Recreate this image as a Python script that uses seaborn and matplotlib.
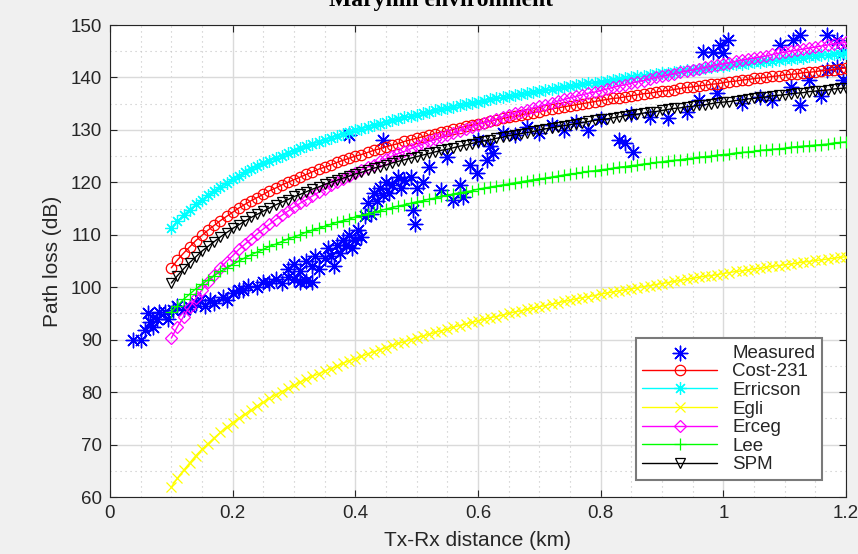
import matplotlib
matplotlib.use("Agg")
import matplotlib.pyplot as plt
import seaborn as sns
from matplotlib.ticker import MultipleLocator, FuncFormatter

# ---------------- data ----------------
distance_km = [0.10, 0.11, 0.12, 0.13, 0.14, 0.15, 0.16, 0.17, 0.18, 0.19,
               0.20, 0.21, 0.22, 0.23, 0.24, 0.25, 0.26, 0.27, 0.28, 0.29,
               0.30, 0.31, 0.32, 0.33, 0.34, 0.35, 0.36, 0.37, 0.38, 0.39,
               0.40, 0.41, 0.42, 0.43, 0.44, 0.45, 0.46, 0.47, 0.48, 0.49,
               0.50, 0.51, 0.52, 0.53, 0.54, 0.55, 0.56, 0.57, 0.58, 0.59,
               0.60, 0.61, 0.62, 0.63, 0.64, 0.65, 0.66, 0.67, 0.68, 0.69,
               0.70, 0.71, 0.72, 0.73, 0.74, 0.75, 0.76, 0.77, 0.78, 0.79,
               0.80, 0.81, 0.82, 0.83, 0.84, 0.85, 0.86, 0.87, 0.88, 0.89,
               0.90, 0.91, 0.92, 0.93, 0.94, 0.95, 0.96, 0.97, 0.98, 0.99,
               1.00, 1.01, 1.02, 1.03, 1.04, 1.05, 1.06, 1.07, 1.08, 1.09,
               1.10, 1.11, 1.12, 1.13, 1.14, 1.15, 1.16, 1.17, 1.18, 1.19, 1.20]

cost231 = [103.7, 105.2, 106.5, 107.7, 108.9, 109.9, 110.9, 111.8, 112.7, 113.5,
           114.3, 115.1, 115.8, 116.5, 117.1, 117.7, 118.4, 118.9, 119.5, 120.0,
           120.5, 121.0, 121.5, 122.0, 122.5, 122.9, 123.3, 123.8, 124.2, 124.6,
           125.0, 125.3, 125.7, 126.1, 126.4, 126.8, 127.1, 127.4, 127.8, 128.1,
           128.4, 128.7, 129.0, 129.3, 129.6, 129.8, 130.1, 130.4, 130.7, 130.9,
           131.2, 131.4, 131.7, 131.9, 132.2, 132.4, 132.6, 132.9, 133.1, 133.3,
           133.5, 133.7, 134.0, 134.2, 134.4, 134.6, 134.8, 135.0, 135.2, 135.4,
           135.6, 135.8, 136.0, 136.1, 136.3, 136.5, 136.7, 136.9, 137.0, 137.2,
           137.4, 137.5, 137.7, 137.9, 138.1, 138.2, 138.4, 138.5, 138.7, 138.8,
           139.0, 139.2, 139.3, 139.5, 139.6, 139.8, 139.9, 140.0, 140.2, 140.3,
           140.5, 140.6, 140.7, 140.9, 141.0, 141.1, 141.3, 141.4, 141.5, 141.7, 141.8]

erricson = [111.3, 112.6, 113.8, 114.8, 115.8, 116.7, 117.6, 118.4, 119.2, 119.9,
            120.6, 121.3, 121.9, 122.5, 123.1, 123.6, 124.1, 124.6, 125.1, 125.6,
            126.0, 126.5, 126.9, 127.3, 127.7, 128.1, 128.5, 128.9, 129.2, 129.6,
            129.9, 130.2, 130.6, 130.9, 131.2, 131.5, 131.8, 132.1, 132.4, 132.6,
            132.9, 133.2, 133.4, 133.7, 133.9, 134.2, 134.4, 134.7, 134.9, 135.1,
            135.4, 135.6, 135.8, 136.0, 136.2, 136.4, 136.6, 136.8, 137.0, 137.2,
            137.4, 137.6, 137.8, 138.0, 138.2, 138.3, 138.5, 138.7, 138.9, 139.0,
            139.2, 139.4, 139.5, 139.7, 139.9, 140.0, 140.2, 140.3, 140.5, 140.6,
            140.8, 140.9, 141.1, 141.2, 141.4, 141.5, 141.7, 141.8, 141.9, 142.1,
            142.2, 142.3, 142.5, 142.6, 142.7, 142.9, 143.0, 143.1, 143.2, 143.4,
            143.5, 143.6, 143.7, 143.8, 144.0, 144.1, 144.2, 144.3, 144.4, 144.5, 144.7]

egli = [61.9, 63.6, 65.1, 66.5, 67.9, 69.1, 70.2, 71.3, 72.3, 73.3,
        74.2, 75.0, 75.8, 76.6, 77.4, 78.1, 78.8, 79.5, 80.1, 80.7,
        81.3, 81.9, 82.5, 83.0, 83.5, 84.0, 84.5, 85.0, 85.5, 86.0,
        86.4, 86.8, 87.3, 87.7, 88.1, 88.5, 88.9, 89.3, 89.6, 90.0,
        90.4, 90.7, 91.0, 91.4, 91.7, 92.0, 92.4, 92.7, 93.0, 93.3,
        93.6, 93.9, 94.2, 94.4, 94.7, 95.0, 95.3, 95.5, 95.8, 96.0,
        96.3, 96.5, 96.8, 97.0, 97.3, 97.5, 97.8, 98.0, 98.2, 98.4,
        98.7, 98.9, 99.1, 99.3, 99.5, 99.7, 99.9, 100.1, 100.3, 100.5,
        100.7, 100.9, 101.1, 101.3, 101.5, 101.7, 101.9, 102.1, 102.2, 102.4,
        102.6, 102.8, 103.0, 103.1, 103.3, 103.5, 103.6, 103.8, 104.0, 104.1,
        104.3, 104.4, 104.6, 104.8, 104.9, 105.1, 105.2, 105.4, 105.5, 105.7, 105.8]

erceg = [90.3, 92.5, 94.4, 96.3, 97.9, 99.5, 101.0, 102.4, 103.7, 104.9,
         106.0, 107.2, 108.2, 109.2, 110.2, 111.1, 112.0, 112.9, 113.7, 114.5,
         115.3, 116.0, 116.7, 117.4, 118.1, 118.8, 119.4, 120.0, 120.6, 121.2,
         121.8, 122.4, 122.9, 123.4, 124.0, 124.5, 125.0, 125.5, 125.9, 126.4,
         126.9, 127.3, 127.8, 128.2, 128.6, 129.0, 129.4, 129.8, 130.2, 130.6,
         131.0, 131.4, 131.7, 132.1, 132.5, 132.8, 133.2, 133.5, 133.8, 134.2,
         134.5, 134.8, 135.1, 135.5, 135.8, 136.1, 136.4, 136.7, 137.0, 137.2,
         137.5, 137.8, 138.1, 138.4, 138.6, 138.9, 139.2, 139.4, 139.7, 140.0,
         140.2, 140.5, 140.7, 141.0, 141.2, 141.4, 141.7, 141.9, 142.1, 142.4,
         142.6, 142.8, 143.1, 143.3, 143.5, 143.7, 143.9, 144.1, 144.4, 144.6,
         144.8, 145.0, 145.2, 145.4, 145.6, 145.8, 146.0, 146.2, 146.4, 146.5, 146.7]

lee = [95.3, 96.5, 97.7, 98.7, 99.7, 100.6, 101.4, 102.2, 103.0, 103.7,
       104.3, 105.0, 105.6, 106.2, 106.7, 107.2, 107.8, 108.2, 108.7, 109.2,
       109.6, 110.0, 110.5, 110.9, 111.2, 111.6, 112.0, 112.4, 112.7, 113.0,
       113.4, 113.7, 114.0, 114.3, 114.6, 114.9, 115.2, 115.5, 115.7, 116.0,
       116.3, 116.5, 116.8, 117.0, 117.3, 117.5, 117.8, 118.0, 118.2, 118.4,
       118.7, 118.9, 119.1, 119.3, 119.5, 119.7, 119.9, 120.1, 120.3, 120.5,
       120.7, 120.8, 121.0, 121.2, 121.4, 121.6, 121.7, 121.9, 122.1, 122.2,
       122.4, 122.5, 122.7, 122.9, 123.0, 123.2, 123.3, 123.5, 123.6, 123.8,
       123.9, 124.1, 124.2, 124.3, 124.5, 124.6, 124.8, 124.9, 125.0, 125.2,
       125.3, 125.4, 125.6, 125.7, 125.8, 125.9, 126.1, 126.2, 126.3, 126.4,
       126.5, 126.7, 126.8, 126.9, 127.0, 127.1, 127.2, 127.3, 127.5, 127.6, 127.7]

spm = [100.8, 102.2, 103.5, 104.7, 105.8, 106.9, 107.8, 108.7, 109.6, 110.4,
       111.2, 111.9, 112.6, 113.3, 113.9, 114.5, 115.1, 115.7, 116.2, 116.7,
       117.3, 117.7, 118.2, 118.7, 119.1, 119.6, 120.0, 120.4, 120.8, 121.2,
       121.6, 121.9, 122.3, 122.7, 123.0, 123.3, 123.7, 124.0, 124.3, 124.6,
       124.9, 125.2, 125.5, 125.8, 126.1, 126.3, 126.6, 126.9, 127.1, 127.4,
       127.7, 127.9, 128.1, 128.4, 128.6, 128.9, 129.1, 129.3, 129.5, 129.7,
       130.0, 130.2, 130.4, 130.6, 130.8, 131.0, 131.2, 131.4, 131.6, 131.8,
       132.0, 132.1, 132.3, 132.5, 132.7, 132.9, 133.0, 133.2, 133.4, 133.5,
       133.7, 133.9, 134.1, 134.2, 134.4, 134.5, 134.7, 134.8, 135.0, 135.2,
       135.3, 135.4, 135.6, 135.7, 135.9, 136.0, 136.2, 136.3, 136.5, 136.6,
       136.7, 136.9, 137.0, 137.1, 137.3, 137.4, 137.5, 137.6, 137.8, 137.9, 138.0]

measured_km = [0.038, 0.050, 0.057, 0.062, 0.065, 0.070, 0.077, 0.080, 0.090, 0.095,
               0.103, 0.110, 0.120, 0.130, 0.140, 0.147, 0.155, 0.163, 0.170, 0.184,
               0.190, 0.200, 0.210, 0.217, 0.225, 0.240, 0.250, 0.260, 0.270, 0.280,
               0.290, 0.300, 0.310, 0.320, 0.330, 0.290, 0.300, 0.310, 0.320, 0.330,
               0.335, 0.340, 0.350, 0.355, 0.360, 0.365, 0.370, 0.375, 0.380, 0.385,
               0.390, 0.395, 0.400, 0.405, 0.410, 0.415, 0.420, 0.425, 0.430, 0.435,
               0.440, 0.445, 0.450, 0.455, 0.460, 0.470, 0.475, 0.480, 0.490, 0.494,
               0.497, 0.500, 0.510, 0.520, 0.540, 0.550, 0.560, 0.570, 0.576, 0.587,
               0.598, 0.615, 0.625, 0.390, 0.445, 0.600, 0.620, 0.640, 0.660, 0.680,
               0.700, 0.720, 0.740, 0.760, 0.780, 0.800, 0.830, 0.840, 0.853, 0.850,
               0.880, 0.910, 0.940, 0.960, 0.990, 1.030, 1.060, 1.080, 1.110, 1.125,
               1.140, 1.160, 1.169, 1.185, 1.195, 0.967, 0.983, 1.000, 1.008, 0.995,
               1.092, 1.114, 1.125, 1.169, 1.185, 1.195]
measured_db = [90.0, 90.0, 91.8, 95.0, 93.4, 92.5, 94.0, 95.3, 95.3, 94.0,
               95.7, 96.5, 95.8, 96.3, 97.0, 97.6, 96.5, 97.6, 97.0, 98.1,
               97.5, 98.9, 99.5, 99.5, 100.3, 100.0, 101.0, 100.8, 101.5, 100.8,
               102.0, 101.5, 101.0, 101.2, 101.0, 103.5, 104.5, 103.0, 105.0, 104.0,
               106.0, 103.5, 105.5, 107.5, 106.0, 104.0, 108.0, 106.5, 109.0, 108.0,
               110.0, 107.5, 109.0, 111.0, 109.5, 113.5, 116.0, 114.0, 118.0, 116.5,
               119.0, 117.5, 120.0, 118.0, 119.5, 121.0, 119.0, 120.5, 121.0, 114.7,
               112.0, 119.0, 120.0, 123.0, 118.5, 124.8, 116.6, 119.5, 117.2, 123.3,
               121.8, 124.3, 125.6, 129.0, 128.0, 128.0, 127.0, 129.5, 129.0, 130.5,
               129.5, 131.0, 130.0, 131.5, 130.0, 132.0, 128.0, 127.5, 125.8, 133.0,
               132.5, 132.3, 133.5, 135.7, 137.0, 135.1, 136.3, 135.7, 138.2, 134.7,
               139.5, 136.5, 141.4, 142.0, 139.5, 144.9, 144.9, 144.7, 147.1, 146.2,
               146.2, 147.1, 148.1, 148.1, 147.1, 144.9]

x_ticks = [0, 0.2, 0.4, 0.6, 0.8, 1.0, 1.2]
y_ticks = [60, 70, 80, 90, 100, 110, 120, 130, 140, 150]

# ---------------- style ----------------
sns.set_theme(style="white")
plt.rcParams['font.family'] = ['Liberation Sans', 'DejaVu Sans']
TXT = '#262626'

fig = plt.figure(figsize=(8.58, 5.54), dpi=100, facecolor='#F0F0F0')
ax = fig.add_axes([110 / 858, 1 - 497 / 554, 736 / 858, 472 / 554])
ax.set_facecolor('white')

ASTER = (8, 2, 0)

sns.scatterplot(x=measured_km, y=measured_db, marker=ASTER, s=110, color='blue',
                linewidth=1.0, label='Measured', ax=ax, zorder=3)

series = [
    (cost231, 'Cost-231', '#FF0000', 'o', 7.5),
    (erricson, 'Erricson', '#00FFFF', ASTER, 9),
    (egli, 'Egli', '#FFFF00', 'x', 7.5),
    (erceg, 'Erceg', '#FF00FF', 'D', 6.5),
    (lee, 'Lee', '#00FF00', '+', 9),
    (spm, 'SPM', '#000000', 'v', 7.5),
]
for vals, lab, col, mk, ms in series:
    sns.lineplot(x=distance_km, y=vals, color=col, marker=mk, markersize=ms,
                 markerfacecolor='none', markeredgecolor=col, markeredgewidth=0.9,
                 linewidth=1.0, label=lab, ax=ax, zorder=3)

ax.set_xlim(0, 1.2)
ax.set_ylim(60, 150)
ax.set_xticks(x_ticks)
ax.set_yticks(y_ticks)
ax.xaxis.set_major_formatter(FuncFormatter(lambda v, p: f"{v:g}"))
ax.xaxis.set_minor_locator(MultipleLocator(0.05))
ax.yaxis.set_minor_locator(MultipleLocator(5))

ax.grid(which='major', color='#DADADA', linewidth=1.0, linestyle='-', zorder=0)
ax.grid(which='minor', color='#C4C4C4', linewidth=0.8, linestyle=(0, (1, 3.5)), zorder=0)
ax.set_axisbelow(True)

for s in ax.spines.values():
    s.set_visible(True)
    s.set_color(TXT)
    s.set_linewidth(0.8)

ax.tick_params(which='major', direction='in', length=5, width=0.8, color=TXT,
               labelcolor=TXT, labelsize=13.5, top=True, right=True,
               bottom=True, left=True, pad=6)
ax.tick_params(which='minor', length=0)

ax.set_xlabel('Tx-Rx distance (km)', fontsize=15, color=TXT, labelpad=6)
ax.set_ylabel('Path loss (dB)', fontsize=15, color=TXT, labelpad=6)

leg = ax.legend(loc='lower right', bbox_to_anchor=(0.967, 0.036), borderaxespad=0,
                fontsize=13.5, frameon=True, fancybox=False, framealpha=1,
                edgecolor='#7A7A7A', handlelength=4.0, labelspacing=0.08,
                borderpad=0.35, handletextpad=0.8, scatterpoints=1)
leg.get_frame().set_linewidth(1.5)
for t in leg.get_texts():
    t.set_color(TXT)

fig.text(0.514, 1 - 6 / 554, 'Maryhill environment', ha='center', va='baseline',
         fontsize=17, fontweight='bold', family='Liberation Serif', color='black')

fig.savefig('out.png', dpi=100, facecolor=fig.get_facecolor())
